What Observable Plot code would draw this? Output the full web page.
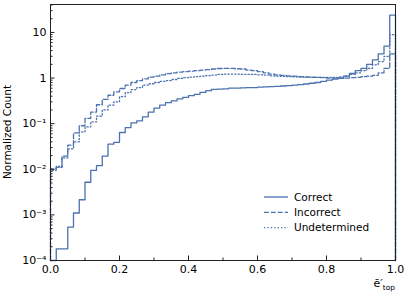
<!DOCTYPE html>
<html><head><meta charset="utf-8">
<script src="https://cdn.jsdelivr.net/npm/d3@7"></script>
<script src="https://cdn.jsdelivr.net/npm/@observablehq/plot@0.6"></script>
<style>body{margin:0;background:#fff;} #c{width:407px;height:298px;}</style>
</head><body><div id="c"></div>
<script>
const nBins = 60;
const correct = [0, 1.8e-4, 1.8e-4, 5.4e-4, 1.1e-3, 2.15e-3, 5.2e-3, 9.5e-3, 1.2e-2, 1.95e-2,
  3.55e-2, 3.9e-2, 6.4e-2, 8.2e-2, 0.104, 0.115, 0.141, 0.18, 0.22, 0.255,
  0.29, 0.317, 0.35, 0.376, 0.41, 0.44, 0.485, 0.53, 0.565, 0.57,
  0.58, 0.6, 0.6, 0.61, 0.62, 0.62, 0.63, 0.64, 0.65, 0.66,
  0.67, 0.68, 0.7, 0.72, 0.74, 0.77, 0.8, 0.85, 0.9, 0.95,
  1.0, 1.1, 1.27, 1.45, 1.63, 2.0, 2.5, 3.4, 5.0, 24];
const incorrect = [0.0102, 0.011, 0.0195, 0.034, 0.063, 0.09, 0.13, 0.18, 0.26, 0.34,
  0.42, 0.5, 0.59, 0.70, 0.8, 0.88, 0.96, 1.05, 1.1, 1.18,
  1.25, 1.3, 1.35, 1.38, 1.42, 1.45, 1.5, 1.53, 1.58, 1.62,
  1.63, 1.63, 1.6, 1.58, 1.5, 1.45, 1.38, 1.3, 1.22, 1.17,
  1.14, 1.12, 1.1, 1.08, 1.06, 1.05, 1.03, 1.02, 1.0, 1.0,
  0.99, 1.0, 1.02, 1.04, 1.07, 1.1, 1.15, 1.3, 1.63, 3.4];
const undetermined = [0.0095, 0.0115, 0.0177, 0.028, 0.04, 0.066, 0.085, 0.11, 0.146, 0.2,
  0.255, 0.3, 0.39, 0.48, 0.56, 0.62, 0.7, 0.75, 0.8, 0.85,
  0.88, 0.93, 0.98, 1.02, 1.05, 1.08, 1.1, 1.13, 1.16, 1.2,
  1.22, 1.22, 1.22, 1.21, 1.2, 1.2, 1.18, 1.16, 1.12, 1.1,
  1.09, 1.08, 1.06, 1.05, 1.04, 1.04, 1.03, 1.03, 1.03, 1.04,
  1.06, 1.1, 1.2, 1.3, 1.45, 1.63, 1.95, 2.3, 3.0, 9.0];
const seriesNames = ["Correct", "Incorrect", "Undetermined"];
const xTicks = [0, 0.2, 0.4, 0.6, 0.8, 1.0];
const xMinorTicks = [0.1, 0.3, 0.5, 0.7, 0.9];
const yTicks = [1e-4, 1e-3, 1e-2, 1e-1, 1, 10];
const yTickLabels = ["10⁻⁴", "10⁻³", "10⁻²", "10⁻¹", "1", "10"];
const yDomain = [1e-4, 41];
const yLabel = "Normalized Count";

const color = "#4c72b0";
const dashes = [null, "4.8,2.1", "1.3,2.1"];

function stepPoints(vals) {
  const floor = yDomain[0];
  const pts = [{x: 0, y: floor}];
  vals.forEach((v, i) => pts.push({x: i / nBins, y: Math.max(v, floor)}));
  pts.push({x: 1, y: Math.max(vals[nBins - 1], floor)});
  pts.push({x: 1, y: floor});
  return pts;
}
const yMinor = [];
for (const d of yTicks) for (let k = 2; k <= 9; k++) { const v = d * k; if (v <= yDomain[1]) yMinor.push(v); }

const allSeries = [correct, incorrect, undetermined];
const plot = Plot.plot({
  width: 407, height: 298,
  marginLeft: 50, marginRight: 12, marginTop: 4, marginBottom: 38,
  x: {domain: [0, 1]},
  y: {type: "log", domain: yDomain},
  style: {fontFamily: "DejaVu Sans", fontSize: "11px", color: "#000", background: "#fff"},
  marks: [
    ...allSeries.map((s, k) => Plot.lineY(stepPoints(s), {x: "x", y: "y", curve: "step-after", stroke: color, strokeWidth: 1.3, strokeDasharray: dashes[k]})),
    Plot.frame({stroke: "#222", strokeWidth: 1}),
    Plot.axisX({ticks: xTicks, tickSize: -4.5, tickFormat: () => "", label: null, stroke: "#222"}),
    Plot.axisX({ticks: xMinorTicks, tickSize: -2.5, tickFormat: () => "", label: null, stroke: "#222"}),
    Plot.axisX({ticks: xTicks, tickSize: 0, tickPadding: 5, tickFormat: d3.format(".1f"), label: null}),
    Plot.axisY({ticks: yTicks, tickSize: -4.5, tickFormat: () => "", label: null, stroke: "#222"}),
    Plot.axisY({ticks: yMinor, tickSize: -2.5, tickFormat: () => "", label: null, stroke: "#222"}),
    Plot.axisY({ticks: yTicks, tickSize: 0, tickPadding: 4, tickFormat: (d) => yTickLabels[yTicks.indexOf(d)], label: null})
  ]
});
document.getElementById("c").appendChild(plot);
const svg = d3.select(plot);
// y label
svg.append("text").attr("transform", "translate(11,132) rotate(-90)").attr("text-anchor", "middle")
  .attr("font-family", "DejaVu Sans").attr("font-size", 10.5).attr("fill", "#000").text(yLabel);
// x label
const xl = svg.append("text").attr("x", 395).attr("y", 287).attr("text-anchor", "end")
  .attr("font-family", "DejaVu Sans").attr("font-size", 11).attr("fill", "#000");
xl.append("tspan").text("ē′");
xl.append("tspan").attr("font-size", 7.5).attr("dy", 2.5).text("top");
// legend
const lg = svg.append("g");
seriesNames.forEach((n, k) => {
  const y = 197 + k * 15.3;
  lg.append("line").attr("x1", 264).attr("x2", 288).attr("y1", y).attr("y2", y)
    .attr("stroke", color).attr("stroke-width", 1.3).attr("stroke-dasharray", dashes[k]);
  lg.append("text").attr("x", 294).attr("y", y + 3.8).attr("text-anchor", "start").attr("font-family", "DejaVu Sans")
    .attr("font-size", 10.5).attr("fill", "#000").text(n);
});
</script></body></html>
